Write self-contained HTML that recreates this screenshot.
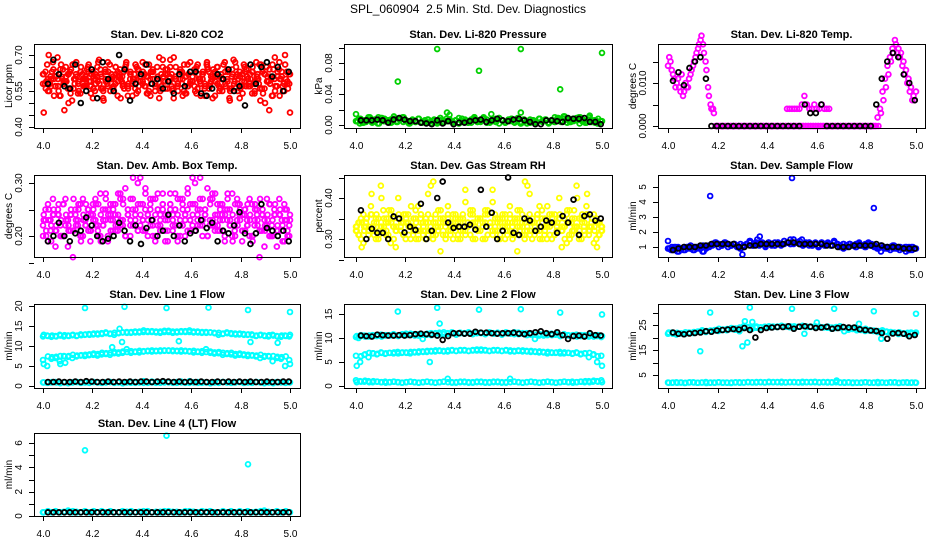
<!DOCTYPE html>
<html><head><meta charset="utf-8"><title>SPL_060904 2.5 Min. Std. Dev. Diagnostics</title>
<style>
html,body{margin:0;padding:0;background:#fff;}
svg{display:block;font-family:"Liberation Sans",Arial,sans-serif;}
</style></head>
<body>
<svg id="chart" width="936" height="540" viewBox="0 0 936 540" xmlns="http://www.w3.org/2000/svg">
<rect x="0" y="0" width="936" height="540" fill="#fff"/>
<text x="468" y="13" text-anchor="middle" font-size="12" xml:space="preserve">SPL_060904  2.5 Min. Std. Dev. Diagnostics</text>
</svg>
<script>
// ---- data ----
const xTicks=[4.0,4.2,4.4,4.6,4.8,5.0];
const xTickLabels=["4.0","4.2","4.4","4.6","4.8","5.0"];

const co2Red=[0.62,0.58,0.66,0.55,0.60,0.64,0.57,0.69,0.53,0.61,0.59,0.65,0.56,0.63,0.51,0.60,0.67,0.58,0.54,0.62,0.60,0.57,0.66,0.59,0.63,0.55,0.61,0.68,0.56,0.52,0.64,0.58,0.60,0.62,0.57,0.65,0.53,0.61,0.59,0.63,0.66,0.56,0.60,0.58,0.62,0.54,0.64,0.59,0.67,0.57,0.61,0.55,0.63,0.60,0.58,0.65,0.52,0.62,0.59,0.56,0.64,0.61,0.57,0.69,0.60,0.55,0.63,0.58,0.66,0.54,0.62,0.59,0.61,0.57,0.65,0.60,0.53,0.63,0.58,0.67,0.56,0.61,0.64,0.59,0.62,0.55,0.60,0.66,0.57,0.63,0.51,0.61,0.58,0.65,0.60,0.56,0.62,0.59,0.64,0.57,0.60,0.63,0.55,0.61,0.58,0.66,0.54,0.62,0.59,0.47,0.60,0.64,0.57,0.61,0.53,0.63,0.58,0.60,0.56,0.46];
const co2Red2=[0.58,0.63,0.55,0.61,0.67,0.57,0.60,0.53,0.64,0.59,0.62,0.56,0.66,0.60,0.54,0.63,0.58,0.61,0.65,0.57,0.52,0.62,0.59,0.64,0.56,0.60,0.67,0.55,0.61,0.58,0.63,0.60,0.57,0.65,0.53,0.62,0.59,0.56,0.64,0.61,0.58,0.66,0.54,0.60,0.63,0.57,0.61,0.55,0.65,0.59,0.62,0.68,0.56,0.60,0.58,0.64,0.53,0.61,0.57,0.63,0.59,0.55,0.66,0.60,0.62,0.57,0.64,0.58,0.52,0.61,0.65,0.56,0.60,0.63,0.59,0.55,0.62,0.67,0.58,0.61,0.54,0.63,0.60,0.57,0.65,0.59,0.62,0.56,0.64,0.50,0.61,0.58,0.66,0.55,0.63,0.60,0.57,0.70,0.59,0.62];
const co2Black=[0.58,0.68,0.62,0.57,0.56,0.66,0.50,0.55,0.64,0.52,0.67,0.60,0.55,0.70,0.64,0.51,0.58,0.62,0.66,0.58,0.60,0.56,0.59,0.54,0.62,0.57,0.63,0.63,0.54,0.53,0.56,0.62,0.60,0.64,0.55,0.57,0.49,0.66,0.58,0.65,0.67,0.61,0.65,0.55,0.63];

const presGreen=[.005,.008,.003,.006,.010,.004,.007,.002,.009,.005,.006,.003,.008,.004,.007,.010,.005,.002,.006,.004,.008,.003,.005,.007,.002,.006,.004,.009,.003,.005,.007,.004,.006,.002,.008,.005,.003,.007,.010,.004,.006,.008,.003,.005,.007,.004,.009,.006,.003,.005,.008,.004,.006,.002,.007,.005,.003,.006,.004,.008,.005,.007,.003,.006,.004,.009,.005,.011,.007,.004,.008,.006,.010,.005,.003,.007,.004,.006,.002,.005];
const presOutX=[4.17,4.33,4.50,4.67,4.83,5.00,4.00,4.37,4.38,4.55,4.67,4.95];
const presOutY=[0.056,0.098,0.070,0.098,0.046,0.093,0.014,0.016,0.013,0.014,0.016,0.012];
const presBlack=[.006,.006,.006,.007,.006,.003,.007,.009,.007,.005,.005,.003,.002,.001,.006,.002,.005,.001,.003,.003,.005,.006,.007,.004,.006,.008,.006,.005,.007,.008,.006,.004,.001,.001,.006,.006,.005,.004,.009,.008,.008,.009,.004,.004,.001];

const tempMag=[.014,.015,.012,.009,.011,.008,.007,.010,.009,.012,.014,.016,.018,.020,.019,.015,.009,.005,.004,0,0,0,0,0,0,0,0,0,0,0,0,0,0,0,0,0,0,0,0,0,0,0,0,0,0,0,0,0,0,0,0,0,0,0,0,0,0,0,0,0,0,0,0,0,0,0,0,0,0,0,0,0,0,0,0,0,0,0,0,0,0,0,0,0,0,.003,.006,.009,.012,.015,.017,.019,.018,.017,.015,.013,.011,.009,.007,.008];
const tempMag2=[.016,.013,.011,.010,.009,.012,.008,.009,.011,.013,.015,.017,.019,.021,.017,.013,.007,.004,.003,0,0,0,0,0,0,0,0,0,0,0,0,0,0,0,0,0,0,0,0,0,0,0,0,0,0,0,0,0,0,0,0,0,0,0,0,0,0,0,0,0,0,0,0,0,0,0,0,0,0,0,0,0,0,0,0,0,0,0,0,0,0,0,0,0,.002,.004,.008,.011,.014,.016,.018,.020,.017,.016,.014,.012,.010,.008,.006,.006];
const tempMidX=[4.48,4.49,4.50,4.51,4.52,4.53,4.54,4.55,4.56,4.57,4.58,4.59,4.60,4.61,4.62,4.63,4.64,4.65];
const tempMidY=[.004,.004,.004,.004,.004,.004,.005,.007,.005,.004,.004,.005,.004,.004,.005,.004,.004,.004];
const tempBlack=[.0105,.0125,.0095,.0135,.0150,.0160,.0110,0,0,0,0,0,0,0,0,0,0,0,0,0,0,0,0,0,.005,.003,.003,.005,0,0,0,0,0,0,0,0,0,.005,.011,.015,.017,.016,.012,.010,.006];

const ambA=[0.22,0.25,0.19,0.23,0.27,0.21,0.24,0.20,0.26,0.22,0.18,0.24,0.21,0.25,0.23,0.20,0.27,0.22,0.24,0.19,0.26,0.23,0.21,0.28,0.22,0.25,0.20,0.24,0.23,0.26,0.21,0.27,0.22,0.29,0.24,0.20,0.25,0.23,0.30,0.22,0.26,0.21,0.24,0.27,0.23,0.19,0.25,0.22,0.28,0.24,0.21,0.26,0.23,0.25,0.20,0.27,0.22,0.24,0.29,0.23,0.26,0.21,0.25,0.22,0.27,0.24,0.20,0.26,0.23,0.28,0.22,0.25,0.21,0.24,0.27,0.23,0.19,0.26,0.22,0.25,0.24,0.21,0.26,0.23,0.20,0.25,0.22,0.27,0.24,0.21,0.23,0.26,0.20,0.24,0.22,0.25,0.19,0.23,0.21,0.24];
const ambB=[0.20,0.23,0.26,0.21,0.24,0.18,0.25,0.22,0.20,0.27,0.23,0.21,0.16,0.24,0.22,0.26,0.20,0.23,0.25,0.21,0.24,0.27,0.22,0.20,0.25,0.23,0.19,0.26,0.21,0.24,0.22,0.28,0.23,0.20,0.25,0.22,0.27,0.24,0.21,0.31,0.23,0.25,0.20,0.26,0.22,0.24,0.28,0.21,0.25,0.23,0.19,0.26,0.24,0.22,0.27,0.20,0.25,0.23,0.28,0.21,0.24,0.26,0.22,0.31,0.23,0.25,0.20,0.27,0.22,0.24,0.21,0.26,0.23,0.25,0.28,0.22,0.24,0.20,0.26,0.23,0.21,0.25,0.22,0.24,0.19,0.26,0.23,0.21,0.25,0.22,0.24,0.20,0.23,0.26,0.21,0.24,0.22,0.25,0.20,0.23];
const ambBlack=[0.19,0.20,0.225,0.20,0.19,0.205,0.21,0.235,0.22,0.20,0.19,0.195,0.20,0.225,0.21,0.19,0.22,0.185,0.215,0.23,0.20,0.21,0.24,0.20,0.22,0.19,0.205,0.21,0.23,0.215,0.225,0.19,0.21,0.205,0.22,0.245,0.205,0.185,0.205,0.26,0.215,0.21,0.20,0.21,0.19];

const rhA=[0.32,0.34,0.30,0.36,0.33,0.31,0.38,0.32,0.35,0.30,0.33,0.37,0.31,0.34,0.29,0.35,0.32,0.40,0.33,0.31,0.36,0.34,0.30,0.33,0.37,0.32,0.35,0.31,0.34,0.41,0.32,0.30,0.36,0.33,0.35,0.31,0.34,0.38,0.32,0.33,0.35,0.30,0.34,0.36,0.32,0.33,0.31,0.37,0.34,0.32,0.35,0.33,0.30,0.36,0.34,0.39,0.32,0.35,0.31,0.33,0.36,0.34,0.32,0.30,0.35,0.33,0.37,0.31,0.34,0.43,0.32,0.35,0.33,0.36,0.30,0.34,0.32,0.38,0.33,0.35,0.31,0.34,0.36,0.32,0.33,0.37,0.30,0.35,0.33,0.40,0.32,0.34,0.31,0.36,0.33,0.35,0.32,0.34,0.31,0.33];
const rhB=[0.33,0.31,0.35,0.29,0.34,0.32,0.36,0.33,0.30,0.35,0.43,0.32,0.34,0.31,0.36,0.33,0.28,0.35,0.32,0.34,0.30,0.36,0.33,0.31,0.35,0.38,0.32,0.34,0.30,0.36,0.33,0.31,0.34,0.32,0.27,0.35,0.33,0.36,0.31,0.34,0.32,0.35,0.30,0.33,0.42,0.34,0.31,0.36,0.33,0.35,0.32,0.30,0.34,0.37,0.33,0.31,0.35,0.32,0.34,0.36,0.30,0.33,0.35,0.31,0.34,0.37,0.32,0.33,0.44,0.35,0.31,0.34,0.32,0.36,0.33,0.30,0.35,0.33,0.31,0.34,0.36,0.32,0.35,0.33,0.30,0.34,0.37,0.32,0.35,0.33,0.31,0.36,0.34,0.41,0.32,0.35,0.33,0.28,0.34,0.32];
const rhBlack=[0.37,0.30,0.325,0.315,0.315,0.30,0.355,0.35,0.316,0.33,0.322,0.386,0.30,0.32,0.40,0.44,0.34,0.327,0.33,0.33,0.335,0.323,0.42,0.33,0.364,0.30,0.32,0.45,0.315,0.31,0.35,0.345,0.32,0.33,0.345,0.34,0.315,0.356,0.34,0.396,0.31,0.356,0.36,0.345,0.35];

const flowBlue=[0.9,0.8,1.0,0.7,0.9,0.8,1.0,0.9,0.8,1.0,0.9,0.7,1.0,1.1,1.2,1.3,1.2,1.1,1.3,1.2,1.1,1.2,1.0,0.9,1.1,1.2,1.4,1.1,1.3,1.2,1.2,1.1,1.3,1.2,1.1,1.3,1.2,1.4,1.3,1.2,1.5,1.3,1.2,1.1,1.2,1.3,1.1,1.2,1.0,1.3,1.1,1.2,1.1,1.3,1.2,1.0,1.2,1.1,1.2,1.1,1.0,1.2,1.1,1.0,1.2,1.1,1.0,0.9,1.1,1.0,0.9,1.0,1.1,0.9,1.0,0.9,1.0,0.8,1.0,0.9];
const flowOutX=[4.00,4.17,4.30,4.36,4.37,4.50,4.83,4.67,4.54];
const flowOutY=[1.4,4.4,0.5,1.5,1.7,5.6,3.6,1.4,1.5];
const flowBlack=[0.8,0.9,1.0,1.0,1.0,1.1,1.1,1.2,1.2,1.2,1.2,1.2,1.0,1.0,1.1,1.1,1.2,1.2,1.2,1.2,1.2,1.3,1.3,1.2,1.2,1.2,1.2,1.2,1.1,1.1,1.0,1.0,1.0,1.1,1.1,1.1,1.1,1.2,1.1,1.0,1.0,1.0,0.9,0.9,0.9];

const l1Top=[12.4,12.6,12.3,12.5,12.8,12.4,12.6,12.7,12.5,12.9,12.8,13.0,12.9,13.1,13.2,13.4,13.0,12.8,13.3,13.4,13.5,13.3,13.6,13.4,13.5,13.7,13.5,13.6,13.3,13.5,13.8,13.6,13.4,13.7,13.5,13.9,13.6,13.4,13.5,13.3,13.4,13.2,13.3,13.1,13.2,13.0,12.9,13.1,12.8,12.9,12.7,12.6,12.8,12.5,12.7,12.6,12.4,12.6,12.5,12.8];
const l1Mid=[6.5,5.0,6.8,7.0,6.2,7.5,7.3,7.0,7.4,7.6,7.5,7.7,7.8,7.6,7.9,8.0,7.8,8.2,8.1,8.3,9.2,8.3,8.5,8.4,8.6,8.7,8.6,8.8,8.7,8.9,8.8,8.9,8.7,8.9,8.8,8.7,8.8,8.6,8.7,8.5,8.6,8.4,8.5,8.3,8.2,8.3,8.0,8.1,7.9,7.8,7.7,7.6,7.8,7.5,7.4,7.5,7.3,7.2,7.4,5.5];
const l1Low=[0.9,0.8,0.9,1.0,0.8,0.9,0.7,0.9,1.0,0.8,0.9,0.8,1.0,0.9,0.8,0.9,1.0,0.8,0.9,0.7,0.9,0.8,1.0,0.9,0.8,0.9,1.1,0.8,0.9,1.0,0.9,0.8,1.0,0.9,0.8,1.2,0.9,0.8,1.0,0.9,0.7,0.9,0.8,1.0,0.9,0.8,0.9,1.0,0.8,0.9,0.8,1.0,0.9,0.8,0.9,0.7,0.9,1.0,0.8,0.9];
const l1OutX=[4.17,4.33,4.50,4.67,4.83,5.00,4.31,4.32,4.55,4.84,4.95,4.07,4.09,4.28];
const l1OutY=[19.5,19.8,19.5,19.6,19.0,18.5,14.3,11.0,11.2,11.0,10.8,5.5,5.8,9.7];
const l1Black=[1.0,1.0,1.1,1.0,1.0,1.1,1.0,1.2,1.1,1.0,1.0,1.1,1.0,1.1,1.0,1.1,1.0,1.1,1.1,1.0,1.1,1.2,1.1,1.0,1.1,1.0,1.1,1.0,1.1,1.0,1.0,1.1,1.0,1.1,1.0,1.1,1.0,1.1,1.0,1.0,1.1,1.0,1.0,1.1,1.1];

const l2Top=[10.2,10.4,10.5,10.3,10.6,10.4,10.7,10.5,10.6,10.8,10.5,10.7,10.9,10.6,10.8,10.5,9.8,10.7,11.0,10.9,11.1,10.8,11.0,11.2,10.9,11.1,11.0,11.2,10.9,11.1,11.0,10.8,11.1,10.9,11.0,10.7,11.0,10.9,11.2,10.8,11.0,10.6,10.9,10.7,10.8,10.5,10.9,10.6,10.8,10.4,10.7,10.5,10.6,10.3,10.6,10.4,10.5,10.3,10.6,10.4];
const l2Mid=[6.3,5.0,6.5,6.0,6.8,6.6,7.0,6.7,6.9,6.8,7.1,6.9,7.0,6.8,7.1,7.0,7.2,7.1,7.3,7.2,7.4,7.3,7.2,7.4,7.3,7.5,7.4,7.3,7.5,7.4,7.6,7.4,7.3,7.5,7.4,7.3,7.5,7.4,7.2,7.3,7.4,7.2,7.3,7.1,7.2,7.0,7.1,6.9,7.0,6.8,7.0,6.9,6.8,6.9,6.7,6.8,6.9,6.6,6.2,4.2];
const l2Low=[1.2,1.0,0.9,1.0,0.8,0.9,0.8,0.9,0.8,0.9,0.8,0.7,0.8,0.9,0.8,0.7,0.8,0.9,0.8,0.7,0.8,0.9,1.5,0.8,0.7,0.8,0.9,0.8,0.7,0.8,0.9,0.8,0.7,0.8,0.9,0.8,0.7,0.8,0.9,0.8,0.7,0.8,0.9,0.8,0.7,0.8,0.9,0.8,0.7,0.8,0.9,0.8,0.7,0.8,0.9,1.0,0.8,1.1,0.9,0.8];
const l2OutX=[4.17,4.33,4.34,4.50,4.67,4.83,5.00,4.30,4.01,4.02];
const l2OutY=[15.5,16.3,13.0,15.9,16.0,15.3,14.9,5.0,10.0,6.2];
const l2Black=[10.5,10.4,10.3,10.7,10.6,10.5,10.5,10.6,10.5,10.6,10.8,10.9,10.8,10.7,10.5,9.6,10.4,11.0,11.0,10.9,10.9,11.3,11.1,11.1,11.0,10.9,11.0,11.0,11.1,10.9,10.8,11.0,11.2,11.4,11.0,10.8,11.2,10.6,9.8,10.4,10.5,10.3,11.0,10.6,10.5];

const l3Top=[21.5,22.0,21.2,21.6,21.4,22.0,21.8,22.3,22.5,22.2,22.6,22.8,22.6,23.0,22.9,23.4,23.1,22.5,24.5,23.8,23.5,23.9,24.0,24.3,24.1,24.4,24.2,24.6,24.3,24.1,24.5,24.3,24.7,24.4,24.2,24.5,24.3,24.1,24.4,24.0,24.2,23.8,24.0,23.6,23.8,23.4,23.2,23.5,23.0,22.8,22.6,22.9,22.4,22.2,21.9,22.1,21.7,21.9,21.5,22.0];
const l3Low=[2.0,1.9,2.1,2.0,1.8,2.0,2.1,1.9,2.0,2.2,1.9,2.0,2.1,1.9,2.0,1.8,2.0,2.1,2.0,2.2,2.1,2.0,2.2,2.1,2.3,2.1,2.2,2.0,2.1,2.2,2.1,2.0,2.3,2.1,2.2,2.1,2.0,2.1,2.2,2.0,2.1,2.0,1.9,2.1,2.0,1.9,2.0,2.1,1.9,2.0,1.8,2.0,1.9,2.0,2.1,1.9,2.0,1.9,2.0,1.9];
const l3OutX=[4.17,4.33,4.50,4.67,4.83,5.00,4.13,4.30,4.31,4.32,4.34,4.55,4.60,4.77,4.86,4.68];
const l3OutY=[30.0,32.0,31.5,31.5,30.5,29.5,14.5,16.5,26.5,18.0,26.2,21.5,26.0,25.5,19.5,2.8];
const l3Black=[22.0,21.5,21.3,21.6,21.8,22.0,22.5,22.3,22.8,23.0,23.2,23.4,23.2,23.8,23.0,20.0,23.0,23.8,24.0,24.2,24.2,24.5,23.5,24.3,24.5,24.3,23.8,24.0,24.3,23.5,23.8,24.2,24.0,24.0,23.3,23.0,22.8,22.6,21.8,19.5,21.6,21.8,21.5,20.5,21.0];

const l4Cyan=[0.3,0.35,0.3,0.4,0.3,0.35,0.45,0.3,0.35,0.3,0.4,0.3,0.35,0.3,0.4,0.3,0.35,0.3,0.3,0.4,0.35,0.3,0.3,0.35,0.4,0.3,0.3,0.35,0.3,0.4,0.3,0.35,0.3,0.3,0.4,0.3,0.35,0.3,0.4,0.3,0.35,0.3,0.3,0.4,0.3,0.35,0.3,0.4,0.3,0.35,0.3,0.3,0.4,0.35,0.3,0.3,0.35,0.3,0.4,0.3];
const l4OutX=[4.17,4.50,4.83,4.00];
const l4OutY=[5.4,6.6,4.25,0.3];
const l4Black=[0.3,0.3,0.3,0.3,0.3,0.3,0.3,0.3,0.3,0.3,0.3,0.3,0.3,0.3,0.3,0.3,0.3,0.3,0.3,0.3,0.3,0.3,0.3,0.3,0.3,0.3,0.3,0.3,0.3,0.3,0.3,0.3,0.3,0.3,0.3,0.3,0.3,0.3,0.3,0.3,0.3,0.3,0.3,0.3,0.3];

// ---- layout ----
const svg=document.getElementById('chart');
const NS='http://www.w3.org/2000/svg';
const colLeft=[34,344,658], colRight=[300,612,925], colX4=[43,356,668], colX5=[290,602,916];
const rowTop=[44,175,304,433], rowBot=[128,257,388,516];

function mk(tag,attrs,parent){const e=document.createElementNS(NS,tag);for(const k in attrs)e.setAttribute(k,attrs[k]);(parent||svg).appendChild(e);return e;}

function panel(col,row,key,title,ylab,v0,p0,v1,p1,yTicks,yLabVals,yLabTxt){
  const L=colLeft[col],R=colRight[col],T=rowTop[row],B=rowBot[row];
  const g=mk('g',{});
  
  
  const sx=v=>colX4[col]+(v-4)*(colX5[col]-colX4[col]);
  const sy=v=>T+p0+(v-v0)*(p1-p0)/(v1-v0);
  const t=mk('text',{x:(L+R)/2,y:T-6,'text-anchor':'middle','font-size':11,'font-weight':'bold'},g);
  t.textContent=title;
  
  
  const yl=mk('text',{transform:`translate(${L-22},${(T+B)/2}) rotate(-90)`,'text-anchor':'middle','font-size':10},g);
  yl.textContent=ylab;
  
  
  xTicks.forEach((v,i)=>{
    const X=Math.round(sx(v))+0.5;
    const tk=mk('line',{x1:X,x2:X,y1:B,y2:B+5,stroke:'#000'},g);
    
    
    const tl=mk('text',{x:X,y:B+21,'text-anchor':'middle','font-size':10},g);
    tl.textContent=xTickLabels[i];
    
    
  });
  yTicks.forEach(v=>{
    const Y=Math.round(sy(v))+0.5;
    const tk=mk('line',{x1:L-5,x2:L,y1:Y,y2:Y,stroke:'#000'},g);
    
    
  });
  yLabVals.forEach((v,i)=>{
    const tl=mk('text',{transform:`translate(${L-12},${sy(v)}) rotate(-90)`,'text-anchor':'middle','font-size':10},g);
    tl.textContent=yLabTxt[i];
    
    
  });
  const pts=mk('g',{},g);
  
  
  const box=mk('rect',{x:L+0.5,y:T+0.5,width:R-L,height:B-T,fill:'none',stroke:'#000','stroke-width':1},g);
  
  
  return {sx,sy,pts,key};
}
function scatterEven(P,vals,x0,x1,color,name){
  const n=vals.length;
  vals.forEach((v,i)=>{
    const x=x0+(x1-x0)*(n>1?i/(n-1):0);
    const c=mk('circle',{cx:P.sx(x),cy:P.sy(v),r:2.4,fill:'none',stroke:color,'stroke-width':1.8},P.pts);
    
    
  });
}
function scatterXY(P,xs,ys,color,name){
  xs.forEach((x,i)=>{
    const c=mk('circle',{cx:P.sx(x),cy:P.sy(ys[i]),r:2.4,fill:'none',stroke:color,'stroke-width':1.8},P.pts);
    
    
  });
}
// dense cloud: draw series forward and mirrored in x to thicken coverage
function cloud(P,vals,color,name){
  scatterEven(P,vals,4.0,5.0,color,name);
  scatterEven(P,vals,4.997,4.003,color,name+'-b');
}
const RED='#ff0000',GRN='#00d000',MAG='#ff00ff',YEL='#ffff00',BLU='#0000ff',CYN='#00ffff',BLK='#000000';

let P;
P=panel(0,0,'co2','Stan. Dev. Li-820 CO2','Licor ppm',0.40,83,0.70,11,[0.40,0.45,0.50,0.55,0.60,0.65,0.70],[0.40,0.55,0.70],['0.40','0.55','0.70']);
cloud(P,co2Red,RED,'red');cloud(P,co2Red2,RED,'red2');scatterEven(P,co2Black,4.02,4.995,BLK,'black');

P=panel(1,0,'pressure','Stan. Dev. Li-820 Pressure','kPa',0,81,0.08,19,[0,0.02,0.04,0.06,0.08,0.10],[0,0.04,0.08],['0.00','0.04','0.08']);
cloud(P,presGreen,GRN,'green');scatterEven(P,presGreen,4.006,4.994,GRN,'green2');scatterXY(P,presOutX,presOutY,GRN,'outlier');scatterEven(P,presBlack,4.02,4.995,BLK,'black');

P=panel(2,0,'temp','Stan. Dev. Li-820 Temp.','degrees C',0,82,0.010,39,[0,0.005,0.010,0.015],[0,0.010],['0.000','0.010']);
scatterEven(P,tempMag,4.0,5.0,MAG,'magenta');scatterEven(P,tempMag2,4.005,4.995,MAG,'magenta2');scatterXY(P,tempMidX,tempMidY,MAG,'mid');scatterEven(P,tempBlack,4.02,4.995,BLK,'black');

P=panel(0,1,'ambbox','Stan. Dev. Amb. Box Temp.','degrees C',0.20,61,0.30,8,[0.15,0.20,0.25,0.30],[0.20,0.30],['0.20','0.30']);
cloud(P,ambA,MAG,'magenta');cloud(P,ambB,MAG,'magenta2');scatterEven(P,ambBlack,4.02,4.995,BLK,'black');

P=panel(1,1,'rh','Stan. Dev. Gas Stream RH','percent',0.30,64,0.40,23,[0.25,0.30,0.35,0.40,0.45],[0.30,0.40],['0.30','0.40']);
cloud(P,rhA,YEL,'yellow');cloud(P,rhB,YEL,'yellow2');scatterEven(P,rhBlack,4.02,4.995,BLK,'black');

P=panel(2,1,'sampleflow','Stan. Dev. Sample Flow','ml/min',1,72,5,12,[1,2,3,4,5],[1,2,3,4,5],['1','2','3','4','5']);
cloud(P,flowBlue,BLU,'blue');scatterEven(P,flowBlue,4.006,4.994,BLU,'blue2');scatterXY(P,flowOutX,flowOutY,BLU,'outlier');scatterEven(P,flowBlack,4.02,4.995,BLK,'black');

P=panel(0,2,'line1','Stan. Dev. Line 1 Flow','ml/min',0,82,20,2,[0,5,10,15,20],[0,5,10,15,20],['0','5','10','15','20']);
cloud(P,l1Top,CYN,'top');cloud(P,l1Mid,CYN,'mid');cloud(P,l1Low,CYN,'low');scatterXY(P,l1OutX,l1OutY,CYN,'outlier');scatterEven(P,l1Black,4.02,4.995,BLK,'black');

P=panel(1,2,'line2','Stan. Dev. Line 2 Flow','ml/min',0,82,15,10,[0,5,10,15],[0,5,10,15],['0','5','10','15']);
cloud(P,l2Top,CYN,'top');cloud(P,l2Mid,CYN,'mid');cloud(P,l2Low,CYN,'low');scatterXY(P,l2OutX,l2OutY,CYN,'outlier');scatterEven(P,l2Black,4.02,4.995,BLK,'black');

P=panel(2,2,'line3','Stan. Dev. Line 3 Flow','ml/min',5,71,25,21,[5,10,15,20,25,30],[5,15,25],['5','15','25']);
cloud(P,l3Top,CYN,'top');cloud(P,l3Low,CYN,'low');scatterXY(P,l3OutX,l3OutY,CYN,'outlier');scatterEven(P,l3Black,4.02,4.995,BLK,'black');

P=panel(0,3,'line4','Stan. Dev. Line 4 (LT) Flow','ml/min',0,83,6,10,[0,1,2,3,4,5,6],[0,2,4,6],['0','2','4','6']);
cloud(P,l4Cyan,CYN,'cyan');scatterXY(P,l4OutX,l4OutY,CYN,'outlier');scatterEven(P,l4Black,4.02,4.995,BLK,'black');
</script>
</body></html>
